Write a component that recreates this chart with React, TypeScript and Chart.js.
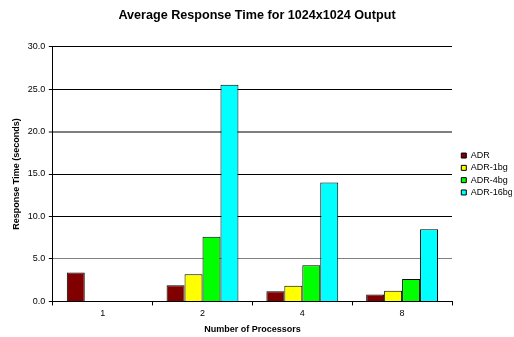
import React, { useEffect, useRef } from "react";
import { Chart, registerables } from "chart.js";

Chart.register(...registerables);

// Processor counts on the x axis
const processors = ["1", "2", "4", "8"];

// Average response time in seconds, per configuration
const adr = [3.4, 1.9, 1.2, 0.8];
const adr1bg = [null, 3.2, 1.85, 1.25];
const adr4bg = [null, 7.6, 4.25, 2.65];
const adr16bg = [null, 25.5, 14.0, 8.5];

const seriesNames = ["ADR", "ADR-1bg", "ADR-4bg", "ADR-16bg"];
const seriesColors = ["#800000", "#FFFF00", "#00FF00", "#00FFFF"];

const FONT = "'Liberation Sans', Arial, sans-serif";

export default function App() {
  const canvasRef = useRef<HTMLCanvasElement | null>(null);

  useEffect(() => {
    const canvas = canvasRef.current;
    if (!canvas) return;
    const values = [adr, adr1bg, adr4bg, adr16bg];
    const chart = new Chart(canvas, {
      type: "bar",
      data: {
        labels: processors,
        datasets: values.map((v, i) => ({
          label: seriesNames[i],
          data: v,
          backgroundColor: seriesColors[i],
          borderColor: "#000000",
          borderWidth: 1,
          borderSkipped: "bottom" as const,
          barPercentage: 1,
          categoryPercentage: 0.72,
        })),
      },
      options: {
        responsive: false,
        animation: false,
        maintainAspectRatio: false,
        layout: { padding: { top: 0, right: 2, bottom: 2, left: 2 } },
        plugins: {
          title: {
            display: true,
            text: "Average Response Time for 1024x1024 Output",
            color: "#000",
            font: { family: FONT, size: 12.6, weight: "bold" },
            padding: { top: 7.5, bottom: 24 },
          },
          legend: {
            position: "right",
            align: "center",
            fullSize: false,
            maxWidth: 54,
            labels: {
              boxWidth: 5,
              boxHeight: 5,
              padding: 3.3,
              color: "#000",
              font: { family: FONT, size: 9 },
              generateLabels: (c: any) =>
                c.data.datasets.map((d: any, i: number) => ({
                  text: d.label,
                  fillStyle: d.backgroundColor,
                  strokeStyle: "#000",
                  lineWidth: 1,
                  datasetIndex: i,
                  hidden: false,
                })),
            },
          },
          tooltip: { enabled: false },
        },
        scales: {
          x: {
            offset: true,
            grid: {
              offset: true,
              drawOnChartArea: false,
              drawTicks: true,
              tickLength: 4,
              color: "#000",
            },
            border: { color: "#000", width: 1 },
            ticks: {
              color: "#000",
              font: { family: FONT, size: 9 },
              padding: 3,
            },
            title: {
              display: true,
              text: "Number of Processors",
              color: "#000",
              font: { family: FONT, size: 9, weight: "bold" },
              padding: { top: 2, bottom: 0 },
            },
          },
          y: {
            min: 0,
            max: 30,
            ticks: {
              stepSize: 5,
              color: "#000",
              font: { family: FONT, size: 9 },
              padding: 3.5,
              callback: (v: any) => Number(v).toFixed(1),
            },
            grid: {
              color: (ctx: any) =>
                ctx.tick && (ctx.tick.value === 20 || ctx.tick.value === 5)
                  ? "#7f7f7f"
                  : "#000",
              lineWidth: (ctx: any) =>
                ctx.tick && ctx.tick.value === 20 ? 2 : 1,
              tickColor: "#000",
              tickWidth: 1,
              tickLength: 4,
            },
            border: { color: "#000", width: 1 },
            title: {
              display: true,
              text: "Response Time (seconds)",
              color: "#000",
              font: { family: FONT, size: 9, weight: "bold" },
              padding: { top: 9, bottom: 2.5 },
            },
          },
          // empty spacer between the plot and the legend
          gap: {
            type: "linear",
            position: "right",
            display: true,
            grid: { display: false, drawTicks: false },
            border: { display: false },
            ticks: { display: false },
            afterFit: (s: any) => {
              s.width = 6;
            },
          },
        },
      },
    });
    return () => chart.destroy();
  }, []);

  return (
    <div
      style={{
        position: "fixed",
        left: 0,
        top: 0,
        width: 514,
        height: 337,
        background: "#fff",
      }}
    >
      <canvas ref={canvasRef} width={514} height={337} />
    </div>
  );
}
